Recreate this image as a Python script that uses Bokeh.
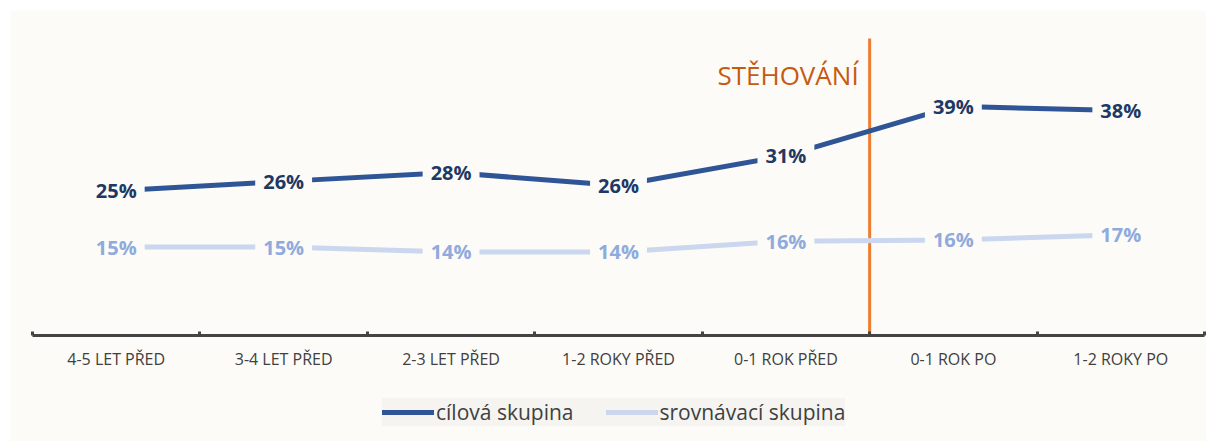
from bokeh.plotting import figure
from bokeh.models import (Range1d, FixedTicker, LinearAxis, Label, Legend,
                          LegendItem, ColumnDataSource)
from bokeh.core.properties import value
from bokeh.embed import file_html
from bokeh.resources import INLINE

# ---- data ----
categories = ["4-5 LET PŘED", "3-4 LET PŘED", "2-3 LET PŘED", "1-2 ROKY PŘED",
              "0-1 ROK PŘED", "0-1 ROK PO", "1-2 ROKY PO"]
cilova = [24.7, 26.3, 27.8, 25.6, 30.7, 39.1, 38.4]          # cílová skupina (%)
srovnavaci = [15.1, 15.1, 14.25, 14.25, 16.1, 16.3, 17.2]    # srovnávací skupina (%)
series_names = ["cílová skupina", "srovnávací skupina"]
move_label = "STĚHOVÁNÍ"
move_after = 5   # number of categories before the move

# ---- styles ----
BG = "#FCFBF7"
LEGEND_BG = "#F4F3F0"
DARK = "#2F5597"
DARK_TXT = "#203864"
LIGHT = "#CAD7EE"
LIGHT_TXT = "#8FAADC"
AXIS = "#444444"
TXT = "#404040"
ORANGE = "#ED7D31"
ORANGE_TXT = "#C55A11"
FONT = value("Open Sans")
Y_TOP = 50.7          # top of the move marker line (value axis units)

n = len(categories)
xs = [i + 0.5 for i in range(n)]
src1 = ColumnDataSource(dict(x=xs, y=cilova, lab=[f"{round(v)}%" for v in cilova]))
src2 = ColumnDataSource(dict(x=xs, y=srovnavaci, lab=[f"{round(v)}%" for v in srovnavaci]))

p = figure(frame_width=1196, frame_height=431, output_backend="svg",
           toolbar_location=None,
           x_range=Range1d(-0.1314, n + 0.0119), y_range=Range1d(-18.09, 55.46),
           x_axis_location=None, y_axis_location=None,
           background_fill_color=BG, border_fill_color="white")
p.min_border_left = 10
p.min_border_right = 0
p.min_border_top = 10
p.min_border_bottom = 0
p.outline_line_color = None
p.xgrid.visible = False
p.ygrid.visible = False

# axis with boundary ticks
ax1 = LinearAxis(ticker=FixedTicker(ticks=list(range(n + 1))), fixed_location=0,
                 bounds=(0, n))
ax1.axis_line_color = AXIS
ax1.axis_line_width = 3
ax1.major_tick_line_color = AXIS
ax1.major_tick_line_width = 3
ax1.major_tick_in = 4
ax1.major_tick_out = 0
ax1.minor_tick_line_color = None
ax1.major_label_text_font_size = "1px"
ax1.major_label_text_alpha = 0
ax1.major_label_standoff = 0
p.add_layout(ax1, "below")

# axis with category labels
ax2 = LinearAxis(ticker=FixedTicker(ticks=xs), fixed_location=0,
                 major_label_overrides={x: c for x, c in zip(xs, categories)})
ax2.axis_line_color = None
ax2.major_tick_line_color = None
ax2.minor_tick_line_color = None
ax2.major_tick_in = 0
ax2.major_tick_out = 0
ax2.major_label_standoff = 13
ax2.major_label_text_font = "Open Sans"
ax2.major_label_text_font_size = "16px"
ax2.major_label_text_color = TXT
p.add_layout(ax2, "below")

# move marker
p.segment(x0=move_after, y0=0, x1=move_after, y1=Y_TOP, line_color=ORANGE, line_width=3)
p.add_layout(Label(x=move_after, y=44.4, x_offset=-11, text=move_label,
                   text_font="Open Sans", text_font_size="26px", text_color=ORANGE_TXT,
                   text_align="right", text_baseline="middle"))

r1 = p.line("x", "y", source=src1, line_color=DARK, line_width=5, line_cap="round")
r2 = p.line("x", "y", source=src2, line_color=LIGHT, line_width=5, line_cap="round")

p.text("x", "y", text="lab", source=src1, text_font=FONT, text_font_size="20px",
       text_font_style="bold", text_color=DARK_TXT, text_align="center",
       text_baseline="middle", background_fill_color=BG, padding=8)
p.text("x", "y", text="lab", source=src2, text_font=FONT, text_font_size="20px",
       text_font_style="bold", text_color=LIGHT_TXT, text_align="center",
       text_baseline="middle", background_fill_color=BG, padding=8)

legend = Legend(items=[LegendItem(label=series_names[0], renderers=[r1]),
                       LegendItem(label=series_names[1], renderers=[r2])],
                orientation="horizontal", location=(372, 15),
                background_fill_color=LEGEND_BG, border_line_color=None,
                label_text_font="Open Sans", label_text_font_size="21px",
                label_text_color=TXT, glyph_width=52, glyph_height=22,
                label_height=22, label_standoff=2, spacing=32, padding=14, margin=0)
p.add_layout(legend, "center")

open("out.html", "w").write(file_html(p, INLINE))
